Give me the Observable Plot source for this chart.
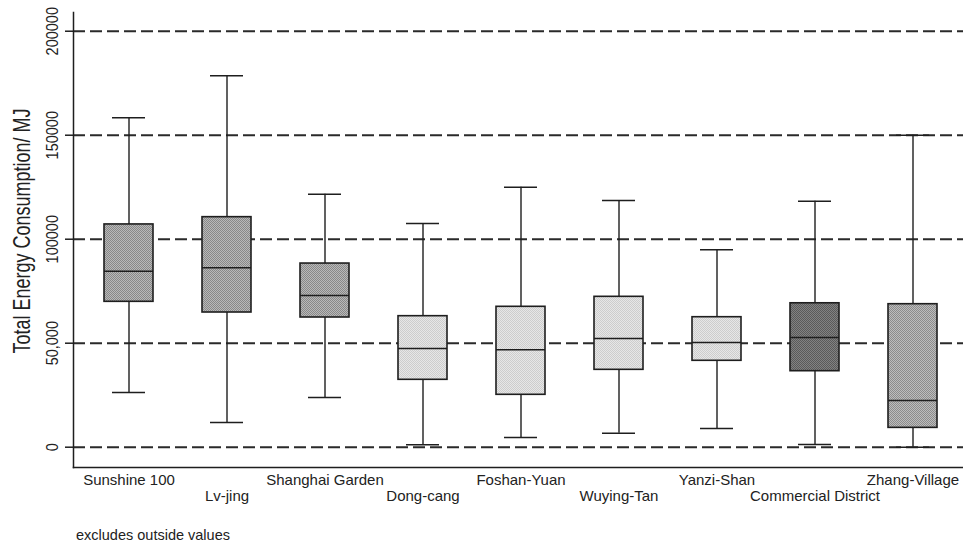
<!DOCTYPE html>
<html>
<head>
<meta charset="utf-8">
<script src="https://cdn.jsdelivr.net/npm/d3@7"></script>
<script src="https://cdn.jsdelivr.net/npm/@observablehq/plot@0.6"></script>
<style>
  html, body { margin: 0; padding: 0; background: #fff; }
  #chart { width: 963px; }
  .caption { font-family: "Liberation Sans", Arial, sans-serif; font-size: 14.5px; color: #222; padding: 10px 0 0 76px; line-height: 20px; }
</style>
</head>
<body>
<div id="chart"></div>
<script>
// ---- data ----
const categories = ["Sunshine 100", "Lv-jing", "Shanghai Garden", "Dong-cang", "Foshan-Yuan", "Wuying-Tan", "Yanzi-Shan", "Commercial District", "Zhang-Village"];
const lowerWhisker = [26300, 11900, 23900, 1150, 4660, 6730, 9000, 1300, 0];
const q1Values     = [69900, 64760, 62360, 32400, 25190, 37200, 41540, 36540, 9300];
const medianValues = [84600, 86250, 72940, 47450, 46830, 52260, 50340, 52740, 22450];
const q3Values     = [107100, 110600, 88300, 62990, 67500, 72300, 62500, 69200, 68750];
const upperWhisker = [158400, 178600, 121640, 107550, 125000, 118600, 94900, 118280, 150000];
const groups = ["A", "A", "A", "B", "B", "B", "B", "C", "D"];
const yTicks = [0, 50000, 100000, 150000, 200000];
const yTickLabels = ["0", "50,000", "100000", "150000", "200000"];
const yTitle = "Total Energy Consumption/ MJ";
const caption = "excludes outside values";

// ---- styling ----
const patternTones = {
  A: ["#b9b9b9", "#888888"],
  B: ["#e7e7e7", "#cdcdcd"],
  C: ["#828282", "#5a5a5a"],
  D: ["#bdbdbd", "#8c8c8c"]
};
const fillFor = g => `url(#pat${g})`;

const data = categories.map((cat, i) => ({
  cat, lo: lowerWhisker[i], q1: q1Values[i], med: medianValues[i], q3: q3Values[i], hi: upperWhisker[i], group: groups[i]
}));

const ink = "#1e1e1e";
const font = "'Liberation Sans', Arial, Helvetica, sans-serif";

const plot = Plot.plot({
  width: 963,
  height: 515,
  marginLeft: 73,
  marginRight: 0,
  marginTop: 12,
  marginBottom: 48,
  style: { fontFamily: font, fontSize: "14px", color: ink, background: "#fff" },
  x: { type: "band", domain: categories, range: [79.25, 962.15], paddingInner: 0.5, paddingOuter: 0.25, axis: null },
  y: { domain: [-9760, 209000] },
  color: { type: "identity" },
  marks: [
    Plot.ruleY(yTicks, { stroke: "#2a2a2a", strokeWidth: 2, strokeDasharray: "12,5" }),
    Plot.axisY({ ticks: yTicks, tickSize: 8, tickFormat: () => "", label: null, stroke: ink, strokeWidth: 1.5 }),
    Plot.frame({ anchor: "left", stroke: ink, strokeWidth: 1.5 }),
    Plot.frame({ anchor: "bottom", stroke: ink, strokeWidth: 1.5 }),
    Plot.text(yTicks, { y: d => d, text: (d, i) => yTickLabels[i], frameAnchor: "left", textAnchor: "middle", lineAnchor: "middle", dx: -20.5, rotate: -90, fontSize: 14.5, fill: "#222", className: "rot-tick" }),
    Plot.text([yTitle], { text: d => d, frameAnchor: "left", textAnchor: "middle", lineAnchor: "middle", dx: -51, dy: -9, rotate: -90, fontSize: 18, fill: "#222", className: "rot-title" }),
    Plot.ruleX(data, { x: "cat", y1: "lo", y2: "hi", stroke: ink, strokeWidth: 1.4 }),
    Plot.tickY(data, { x: "cat", y: "lo", insetLeft: 8, insetRight: 8, stroke: ink, strokeWidth: 1.6 }),
    Plot.tickY(data, { x: "cat", y: "hi", insetLeft: 8, insetRight: 8, stroke: ink, strokeWidth: 1.6 }),
    Plot.barY(data, { x: "cat", y1: "q1", y2: "q3", fill: d => fillFor(d.group), stroke: ink, strokeWidth: 1.6 }),
    Plot.tickY(data, { x: "cat", y: "med", stroke: ink, strokeWidth: 1.6 }),
    Plot.text(categories.filter((d, i) => i % 2 === 0), { x: d => d, text: d => d, frameAnchor: "bottom", dy: 17, fontSize: 15, fill: "#222" }),
    Plot.text(categories.filter((d, i) => i % 2 === 1), { x: d => d, text: d => d, frameAnchor: "bottom", dy: 33, fontSize: 15, fill: "#222" })
  ]
});

// the reference's rotated texts use a taller, narrower face: stretch glyph height only
function stretch(sel, k) {
  plot.querySelectorAll(sel).forEach(t => {
    const tr = t.getAttribute("transform") || "";
    t.setAttribute("transform", tr + ` scale(1,${k})`);
  });
}
stretch(".rot-tick text", 1.15);
stretch(".rot-title text", 1.3);

// stipple patterns for the box fills
const NS = "http://www.w3.org/2000/svg";
const defs = document.createElementNS(NS, "defs");
for (const [g, [light, dark]] of Object.entries(patternTones)) {
  const p = document.createElementNS(NS, "pattern");
  p.setAttribute("id", "pat" + g);
  p.setAttribute("patternUnits", "userSpaceOnUse");
  p.setAttribute("width", "2");
  p.setAttribute("height", "2");
  const bg = document.createElementNS(NS, "rect");
  bg.setAttribute("width", "2"); bg.setAttribute("height", "2"); bg.setAttribute("fill", light);
  p.appendChild(bg);
  for (const [x, y] of [[0, 0], [1, 1]]) {
    const r = document.createElementNS(NS, "rect");
    r.setAttribute("x", x); r.setAttribute("y", y); r.setAttribute("width", "1"); r.setAttribute("height", "1"); r.setAttribute("fill", dark);
    p.appendChild(r);
  }
  defs.appendChild(p);
}
plot.insertBefore(defs, plot.firstChild);

const chart = document.getElementById("chart");
chart.appendChild(plot);
const cap = document.createElement("div");
cap.className = "caption";
cap.textContent = caption;
chart.appendChild(cap);
</script>
</body>
</html>
